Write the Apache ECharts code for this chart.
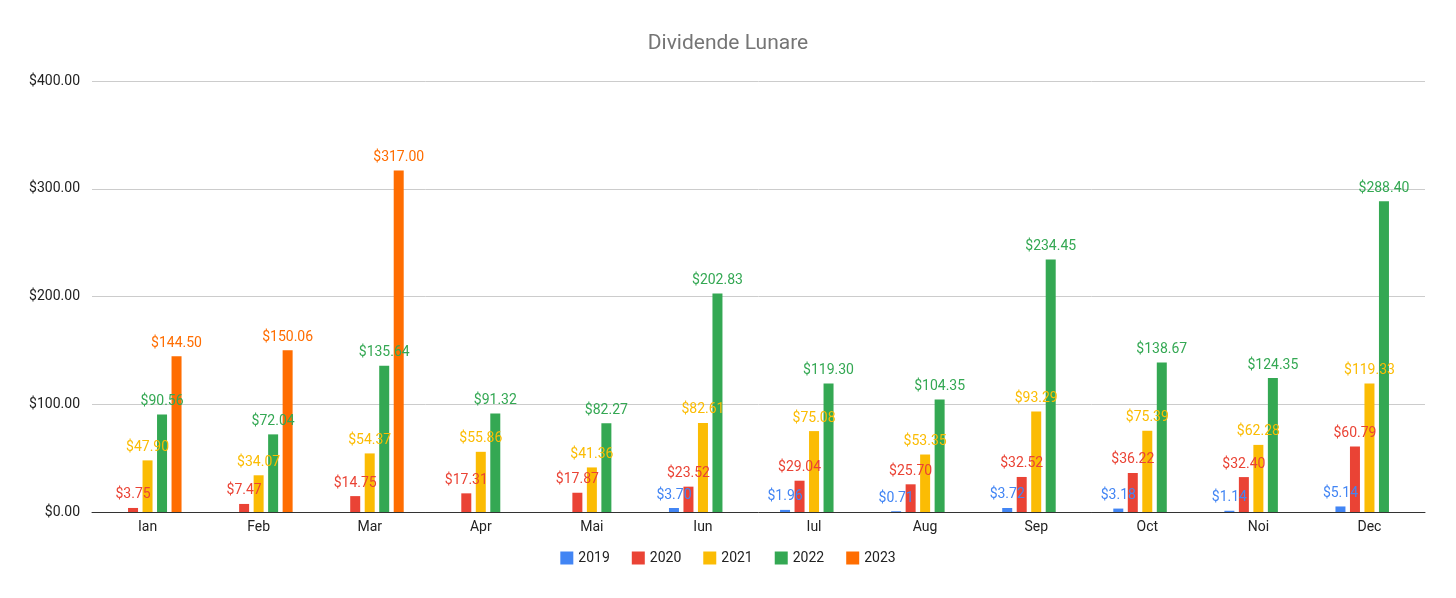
<!DOCTYPE html>
<html><head><meta charset="utf-8">
<script src="https://cdn.jsdelivr.net/npm/echarts@6/dist/echarts.min.js"></script>
<style>html,body{margin:0;padding:0;background:#fff}#c{width:1456px;height:598px}</style>
</head><body><div id="c"></div>
<script>
const categories=["Ian","Feb","Mar","Apr","Mai","Iun","Iul","Aug","Sep","Oct","Noi","Dec"];
const s2019=[null,null,null,null,null,3.70,1.96,0.71,3.72,3.18,1.14,5.14];
const s2020=[3.75,7.47,14.75,17.31,17.87,23.52,29.04,25.70,32.52,36.22,32.40,60.79];
const s2021=[47.90,34.07,54.37,55.86,41.36,82.61,75.08,53.35,93.29,75.39,62.28,119.33];
const s2022=[90.56,72.04,135.64,91.32,82.27,202.83,119.30,104.35,234.45,138.67,124.35,288.40];
const s2023=[144.50,150.06,317.00,null,null,null,null,null,null,null,null,null];
const names=["2019","2020","2021","2022","2023"];
const colors=["#4285f4","#ea4335","#fbbc04","#34a853","#ff6d01"];
const data=[s2019,s2020,s2021,s2022,s2023];
const chart=echarts.init(document.getElementById('c'));
chart.setOption({
  animation:false,
  title:{text:"Dividende Lunare",left:'center',top:28,textStyle:{color:'#757575',fontSize:21,fontWeight:'normal',fontFamily:'Roboto'}},
  legend:{bottom:28,icon:'rect',itemWidth:13,itemHeight:13,itemGap:22,textStyle:{color:'#222',fontSize:14,fontFamily:'Roboto'},data:names},
  grid:{left:92,right:31,top:81,bottom:86},
  xAxis:{type:'category',data:categories,axisTick:{show:false},axisLine:{lineStyle:{color:'#333'}},axisLabel:{color:'#222',fontSize:14,fontFamily:'Roboto'}},
  yAxis:{type:'value',min:0,max:400,interval:100,axisLabel:{color:'#222',fontSize:14,fontFamily:'Roboto',formatter:v=>'$'+v.toFixed(2),margin:12},splitLine:{lineStyle:{color:'#ccc'}}},
  series:names.map((n,i)=>({name:n,type:'bar',data:data[i],barWidth:10,barGap:'45%',barCategoryGap:'30%',
    itemStyle:{color:colors[i]},
    label:{show:true,position:'top',distance:6,color:colors[i],fontSize:14,fontFamily:'Roboto',formatter:p=>p.value==null?'':'$'+p.value.toFixed(2)}}))
});
</script></body></html>
